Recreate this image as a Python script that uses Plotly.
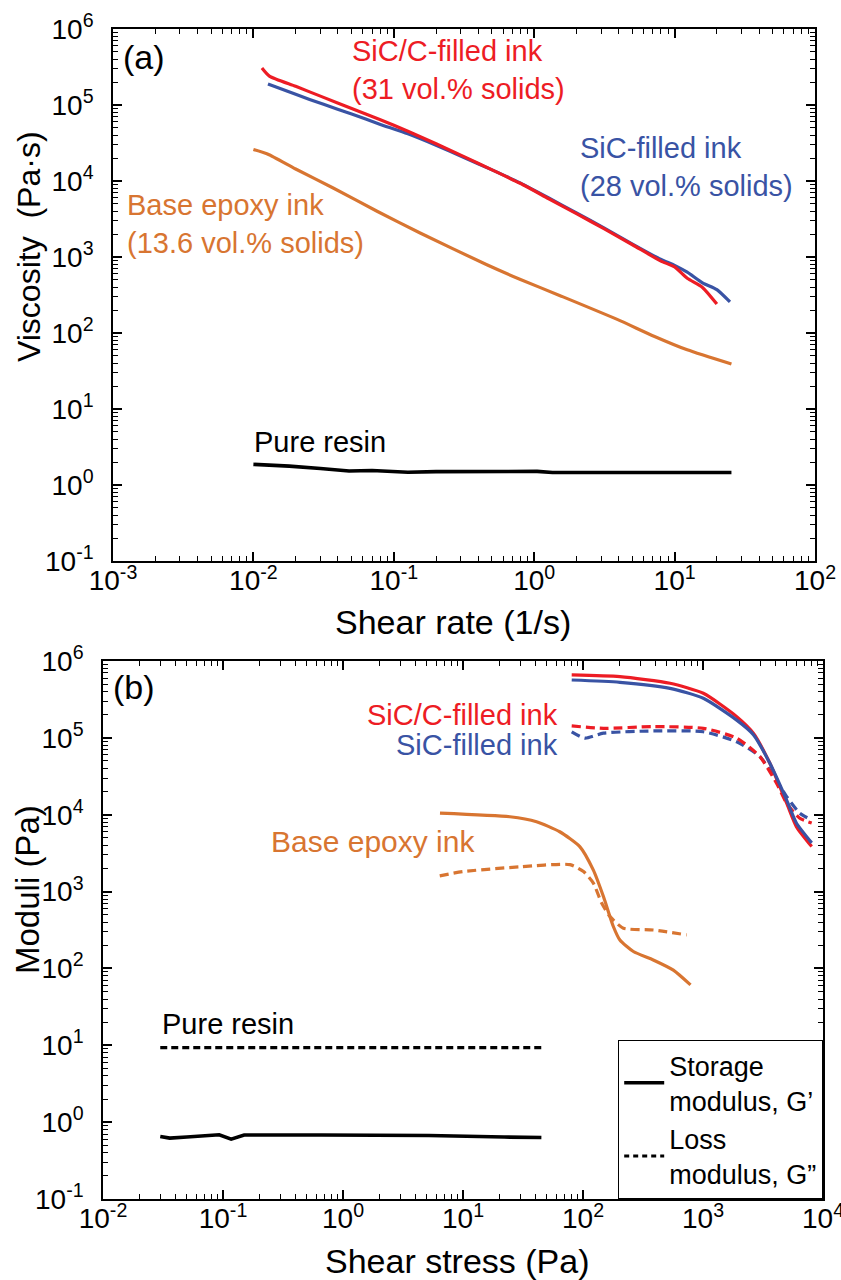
import plotly.graph_objects as go

W, H = 841, 1280
FONT = "Liberation Sans, Arial, sans-serif"
RED, BLUE, ORANGE, BLACK = "#ED1C24", "#3953A4", "#D87531", "#000000"

# ---------------- Panel (a): viscosity vs shear rate ----------------
rate_sicc = [0.0115, 0.013, 0.02, 0.0316, 0.0501, 0.0794, 0.126, 0.2, 0.316, 0.501, 0.794, 1.26, 2.0, 3.16, 5.01, 7.94, 10, 12.3, 15.8, 20]
visc_sicc = [3.07e5, 2.4e5, 1.76e5, 1.26e5, 9.0e4, 6.46e4, 4.52e4, 3.09e4, 2.09e4, 1.40e4, 9.33e3, 5.89e3, 3.72e3, 2.34e3, 1.45e3, 8.9e2, 7.4e2, 5.25e2, 3.98e2, 2.4e2]

rate_sic = [0.0127, 0.02, 0.0316, 0.0501, 0.0794, 0.126, 0.2, 0.316, 0.501, 0.794, 1.26, 2.0, 3.16, 5.01, 7.94, 10, 12.3, 15.8, 20, 24.8]
visc_sic = [1.89e5, 1.38e5, 1.02e5, 7.6e4, 5.6e4, 4.17e4, 2.95e4, 2.04e4, 1.40e4, 9.44e3, 6.03e3, 3.80e3, 2.40e3, 1.48e3, 9.33e2, 7.76e2, 6.31e2, 4.57e2, 3.72e2, 2.56e2]

rate_base = [0.01, 0.0126, 0.02, 0.037, 0.076, 0.154, 0.46, 0.79, 1.53, 3.9, 7.2, 12.3, 25.4]
visc_base = [2.6e4, 2.27e4, 1.44e4, 8.1e3, 4.0e3, 2.07e3, 7.9e2, 5.1e2, 3.1e2, 1.51e2, 9.0e1, 6.0e1, 3.9e1]

rate_resin = [0.01, 0.012, 0.018, 0.03, 0.048, 0.07, 0.126, 0.2, 1.05, 1.35, 25.4]
visc_resin = [1.87, 1.85, 1.77, 1.65, 1.53, 1.55, 1.47, 1.5, 1.51, 1.46, 1.46]

# ---------------- Panel (b): moduli vs shear stress ----------------
stress_sicc_gp = [80.5, 203, 531, 1006, 1910, 2630, 3600, 4980, 6000, 8050]
gp_sicc = [6.58e5, 6.25e5, 5.13e5, 3.8e5, 1.89e5, 1.15e5, 4.7e4, 1.41e4, 7.0e3, 3.85e3]
stress_sic_gp = [80.5, 203, 531, 1006, 1910, 2630, 3600, 4980, 6000, 8050]
gp_sic = [5.66e5, 5.28e5, 4.4e5, 3.27e5, 1.7e5, 1.1e5, 4.7e4, 1.55e4, 7.8e3, 4.3e3]

stress_sicc_gpp = [80.5, 148, 385, 1006, 1910, 2980, 4100, 4980, 6400, 8050]
gpp_sicc = [1.43e5, 1.33e5, 1.4e5, 1.33e5, 9.9e4, 5.7e4, 2.57e4, 1.41e4, 9.0e3, 7.8e3]
stress_sic_gpp = [80.5, 104, 148, 385, 1006, 1910, 2980, 4100, 4980, 6400, 8050]
gpp_sic = [1.2e5, 9.9e4, 1.15e5, 1.23e5, 1.2e5, 8.9e4, 5.7e4, 2.8e4, 1.72e4, 1.05e4, 8.5e3]

stress_base_gp = [6.43, 24.6, 41, 64, 94, 122, 148, 179, 203, 263, 385, 566, 787]
gp_base = [1.05e4, 9.4e3, 8.1e3, 6.0e3, 3.85e3, 1.9e3, 861, 351, 234, 166, 129, 95, 61]
stress_base_gpp = [6.4, 10, 30, 78, 101, 122, 143, 168, 217, 385, 731]
gpp_base = [1.6e3, 1.82e3, 2.1e3, 2.24e3, 1.82e3, 1.29e3, 708, 473, 334, 316, 273]

stress_resin_gp = [0.03, 0.036, 0.05, 0.093, 0.117, 0.15, 0.66, 5.2, 22, 45]
gp_resin = [0.65, 0.62, 0.64, 0.685, 0.60, 0.68, 0.68, 0.67, 0.64, 0.63]
stress_resin_gpp = [0.03, 45]
gpp_resin = [9.3, 9.3]

xexp_a = [-3, -2, -1, 0, 1, 2]
xexp_b = [-2, -1, 0, 1, 2, 3, 4]
yexp = [-1, 0, 1, 2, 3, 4, 5, 6]


def px(x):
    return x / W


def py(y):
    return 1 - y / H


def ticks(exps):
    return [10.0 ** e for e in exps], ["10<sup>%d</sup>" % e for e in exps]


def minors(exps):
    return [m * 10.0 ** e for e in exps[:-1] for m in range(2, 10)]


fig = go.Figure()
DASH = "9px,5px"


def line(x, y, color, xa, ya, dash="solid", width=3.2, name=None, legend=False, smooth=True):
    fig.add_trace(go.Scatter(x=x, y=y, mode="lines", xaxis=xa, yaxis=ya,
                             line=dict(color=color, width=width, dash=dash,
                                       shape="spline" if smooth else "linear",
                                       smoothing=0.6 if smooth else None),
                             showlegend=legend, name=name, hoverinfo="skip"))


line(rate_base, visc_base, ORANGE, "x", "y")
line(rate_sic, visc_sic, BLUE, "x", "y")
line(rate_sicc, visc_sicc, RED, "x", "y")
line(rate_resin, visc_resin, BLACK, "x", "y", width=3.6, smooth=False)

line(stress_base_gp, gp_base, ORANGE, "x2", "y2")
line(stress_base_gpp, gpp_base, ORANGE, "x2", "y2", dash=DASH)
line(stress_sic_gpp, gpp_sic, BLUE, "x2", "y2", dash=DASH)
line(stress_sicc_gpp, gpp_sicc, RED, "x2", "y2", dash=DASH)
line(stress_sicc_gp, gp_sicc, RED, "x2", "y2")
line(stress_sic_gp, gp_sic, BLUE, "x2", "y2")
line(stress_resin_gp, gp_resin, BLACK, "x2", "y2", width=3.6, smooth=False)
line(stress_resin_gpp, gpp_resin, BLACK, "x2", "y2", dash="7px,4px", width=3.2, smooth=False)

# legend-only entries
line([None], [None], BLACK, "x2", "y2", width=3.6, name="Storage<br>modulus, G\u2019", legend=True, smooth=False)
line([None], [None], BLACK, "x2", "y2", dash="5px,4px", width=3.2, name="Loss<br>modulus, G\u201d", legend=True, smooth=False)


def axis(domain, anchor, exps, rng, standoff):
    tv, tt = ticks(exps)
    return dict(type="log", domain=domain, anchor=anchor, range=rng, automargin=False,
                tickmode="array", tickvals=tv, ticktext=tt,
                ticks="inside", ticklen=9, tickwidth=1.5, tickcolor="black",
                minor=dict(tickmode="array", tickvals=minors(exps), ticks="inside",
                           ticklen=5, tickwidth=1.2, tickcolor="black", showgrid=False),
                showline=True, linecolor="black", linewidth=1.6, mirror="ticks",
                showgrid=False, zeroline=False, ticklabeloverflow="allow",
                tickfont=dict(family=FONT, size=28, color="black"),
                ticklabelstandoff=standoff)


xa_dom = [px(113), px(815)]
xb_dom = [px(103), px(823)]
ya_dom = [py(561), py(29)]
yb_dom = [py(1199), py(661)]

fig.update_layout(
    width=W, height=H, margin=dict(l=0, r=0, t=0, b=0, autoexpand=False),
    paper_bgcolor="white", plot_bgcolor="white",
    font=dict(family=FONT, color="black"),
    xaxis=axis(xa_dom, "y", xexp_a, [-3, 2], -6),
    yaxis=axis(ya_dom, "x", yexp, [-1, 6], 12),
    xaxis2=axis(xb_dom, "y2", xexp_b, [-2, 4], -6),
    yaxis2=axis(yb_dom, "x2", yexp, [-1, 6], 12),
    legend=dict(x=px(823), y=py(1199), xanchor="right", yanchor="bottom",
                bordercolor="black", borderwidth=1.2, bgcolor="white",
                font=dict(family=FONT, size=27, color="black"),
                itemwidth=40, tracegroupgap=0),
    showlegend=True,
)


def note(text, x, y, color="black", size=29, xanchor="left", align="left", angle=0):
    fig.add_annotation(text=text, x=px(x), y=py(y), xref="paper", yref="paper",
                       xanchor=xanchor, yanchor="middle", align=align, showarrow=False,
                       textangle=angle, font=dict(family=FONT, size=size, color=color))


# panel (a) texts
note("(a)", 121, 57, size=34)
note("SiC/C-filled ink<br>(31 vol.% solids)", 350, 70, RED)
note("SiC-filled ink<br>(28 vol.% solids)", 578, 167, BLUE)
note("Base epoxy ink<br>(13.6 vol.% solids)", 125, 224, ORANGE)
note("Pure resin", 252, 442, size=29)
note("Viscosity  (Pa\u00b7s)", 29, 247, size=32, xanchor="center", angle=-90)
note("Shear rate (1/s)", 453, 622, size=34, xanchor="center")

# panel (b) texts
note("(b)", 111, 687, size=34)
note("SiC/C-filled ink", 560, 715, RED, xanchor="right")
note("SiC-filled ink", 560, 745, BLUE, xanchor="right")
note("Base epoxy ink", 269, 841, ORANGE, size=30)
note("Pure resin", 160, 1024, size=29)
note("Moduli (Pa)", 27, 890, size=33, xanchor="center", angle=-90)
note("Shear stress (Pa)", 457, 1261, size=34, xanchor="center")

fig.write_html("out.html", config={"displayModeBar": False},
               post_script="document.body.style.margin='0px';")
